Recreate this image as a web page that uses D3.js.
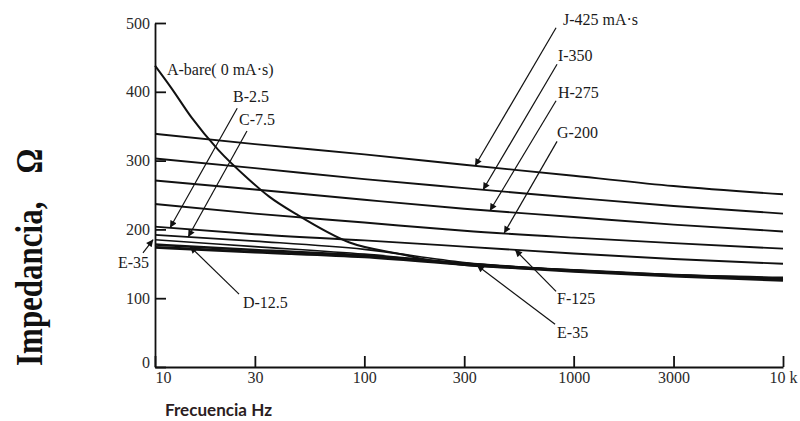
<!DOCTYPE html>
<html>
<head>
<meta charset="utf-8">
<script src="https://cdn.jsdelivr.net/npm/d3@7"></script>
<style>
  body { margin: 0; background: #fff; }
  svg { display: block; }
</style>
</head>
<body>
<div id="chart"></div>
<script>
// frequency grid (Hz) shared by the near-straight curves
var frequencies = [10, 30, 100, 300, 1000, 3000, 10000];

// impedance (ohm)
var curveJ = [339, 324, 309, 294, 278, 263, 251];
var curveI = [303, 289, 273, 260, 246, 234, 223];
var curveH = [271, 258, 243, 230, 218, 207, 197];
var curveG = [237, 223, 210, 198, 188, 180, 172];
var curveF = [204, 193, 184, 175, 165, 157, 150];
var curveB = [192, 183, 171, 152, 141, 134, 129];
var curveC = [185, 175, 164, 151, 140, 133, 128];
var curveD = [178, 170, 162, 150, 140, 133, 127];
var curveE = [174, 167, 160, 149, 139, 132, 126];

// bare electrode curve has its own grid
var bareFreqs  = [10, 12, 15, 20, 28, 35, 48, 85, 150, 215, 310, 1000, 3000, 10000];
var bareValues = [438, 405, 362, 316, 273, 248, 221, 181, 164, 154, 148, 141, 134, 130];

var yTicks = [0, 100, 200, 300, 400, 500];
var xTicks = [10, 30, 100, 300, 1000, 3000, 10000];
var xTickLabels = ["10", "30", "100", "300", "1000", "3000", "10 k"];

// labels: text, where the text sits, where the arrow starts, which curve/freq it hits
var annotations = [
    { text: "J-425 mA·s", at: [889, 497], tail: [824, 493], target: ["J", 338] },
    { text: "I-350", at: [841, 445], tail: [833, 440], target: ["I", 369] },
    { text: "H-275", at: [841, 391], tail: [824, 387], target: ["H", 398] },
    { text: "G-200", at: [833, 333], tail: [833, 328], target: ["G", 465] },
    { text: "F-125", at: [833, 92], tail: [824, 110], target: ["F", 525] },
    { text: "E-35", at: [833, 42], tail: [815, 62], target: ["E", 345] },
    { text: "D-12.5", at: [26.3, 86], tail: [25.2, 106], target: ["D", 14.7] },
    { text: "E-35", at: [9.36, 144], tail: [8.76, 166], target: ["C", 9.8], anchor: "end" },
    { text: "B-2.5", at: [23.6, 385], tail: [24.7, 376], target: ["F", 11.8] },
    { text: "C-7.5", at: [25.2, 352], tail: [27.5, 343], target: ["B", 14.4] },
    { text: "A-bare( 0 mA·s)", at: [11.4, 424] }
];

var series = [
    { name: "J", f: frequencies, v: curveJ, w: 1.9 },
    { name: "I", f: frequencies, v: curveI, w: 1.9 },
    { name: "H", f: frequencies, v: curveH, w: 1.9 },
    { name: "G", f: frequencies, v: curveG, w: 1.9 },
    { name: "F", f: frequencies, v: curveF, w: 1.9 },
    { name: "B", f: frequencies, v: curveB, w: 1.6 },
    { name: "C", f: frequencies, v: curveC, w: 1.6 },
    { name: "D", f: frequencies, v: curveD, w: 2.4 },
    { name: "E", f: frequencies, v: curveE, w: 2.8 },
    { name: "A", f: bareFreqs, v: bareValues, w: 2 }
];

var width = 800, height = 421;
var serif = "'Liberation Serif', 'Times New Roman', serif";

var svg = d3.select("#chart").append("svg")
    .attr("width", width)
    .attr("height", height);

var x = d3.scaleLog().domain([10, 10000]).range([155, 783]);
var y = d3.scaleLinear().domain([0, 500]).range([367, 23]);

// arrow head
svg.append("defs").append("marker")
    .attr("id", "arrow")
    .attr("viewBox", "0 0 10 10")
    .attr("refX", 10)
    .attr("refY", 5)
    .attr("markerWidth", 8)
    .attr("markerHeight", 7)
    .attr("markerUnits", "userSpaceOnUse")
    .attr("orient", "auto")
    .append("path")
    .attr("d", "M0,0L10,5L0,10z")
    .attr("fill", "#111");

// axes
var yAxis = d3.axisLeft(y)
    .tickValues(yTicks)
    .tickSizeInner(-11)
    .tickSizeOuter(0)
    .tickPadding(5);

var gy = svg.append("g")
    .attr("transform", "translate(155,0)")
    .call(yAxis);

var xAxis = d3.axisBottom(x)
    .tickValues(xTicks)
    .tickFormat(function (d, i) { return xTickLabels[i]; })
    .tickSizeInner(-11)
    .tickSizeOuter(0)
    .tickPadding(5);

var gx = svg.append("g")
    .attr("transform", "translate(0,367)")
    .call(xAxis);

[gx, gy].forEach(function (g) {
    g.attr("font-family", serif);
    g.selectAll("path, line").attr("stroke", "#111").attr("stroke-width", 1.8);
    g.selectAll("text")
        .attr("font-family", serif)
        .attr("font-size", 16)
        .attr("fill", "#2a2a2a");
});
gx.selectAll(".tick text").filter(function (d) { return d === 10; })
    .attr("text-anchor", "start");
gy.selectAll(".tick text").filter(function (d) { return d === 0; })
    .attr("dy", "0.05em");

// curves
var line = d3.line()
    .x(function (d) { return x(d[0]); })
    .y(function (d) { return y(d[1]); })
    .curve(d3.curveMonotoneX);

svg.append("g").selectAll("path")
    .data(series)
    .enter()
    .append("path")
    .attr("d", function (s) { return line(d3.zip(s.f, s.v)); })
    .attr("fill", "none")
    .attr("stroke", "#111")
    .attr("stroke-width", function (s) { return s.w; })
    .attr("stroke-linejoin", "round");

function valueAt(name, f) {
    var s = series.find(function (d) { return d.name === name; });
    return d3.scaleLog().domain(s.f).range(s.v)(f);
}

// arrows + labels
var ann = svg.append("g");

ann.selectAll("line")
    .data(annotations.filter(function (a) { return a.target; }))
    .enter()
    .append("line")
    .attr("x1", function (a) { return x(a.tail[0]); })
    .attr("y1", function (a) { return y(a.tail[1]); })
    .attr("x2", function (a) { return x(a.target[1]); })
    .attr("y2", function (a) { return y(valueAt(a.target[0], a.target[1])); })
    .attr("stroke", "#111")
    .attr("stroke-width", 1.2)
    .attr("marker-end", "url(#arrow)");

ann.selectAll("text")
    .data(annotations)
    .enter()
    .append("text")
    .attr("x", function (a) { return x(a.at[0]); })
    .attr("y", function (a) { return y(a.at[1]); })
    .attr("text-anchor", function (a) { return a.anchor || "start"; })
    .attr("font-family", serif)
    .attr("font-size", 16)
    .attr("fill", "#1a1a1a")
    .text(function (a) { return a.text; });

// axis titles
var yTitle = svg.append("text")
    .attr("transform", "translate(42,366) rotate(-90) scale(1,1.2)")
    .attr("font-family", serif)
    .attr("font-weight", "bold")
    .attr("font-size", 31)
    .attr("fill", "#111")
    .text("Impedancia,");
yTitle.append("tspan").attr("dx", 28).text("Ω");

svg.append("text")
    .attr("x", 165)
    .attr("y", 416)
    .attr("font-family", "Lato, 'Open Sans', sans-serif")
    .attr("font-weight", "bold")
    .attr("font-size", 17)
    .attr("textLength", 107)
    .attr("lengthAdjust", "spacingAndGlyphs")
    .attr("fill", "#2b1d22")
    .text("Frecuencia Hz");
</script>
</body>
</html>
